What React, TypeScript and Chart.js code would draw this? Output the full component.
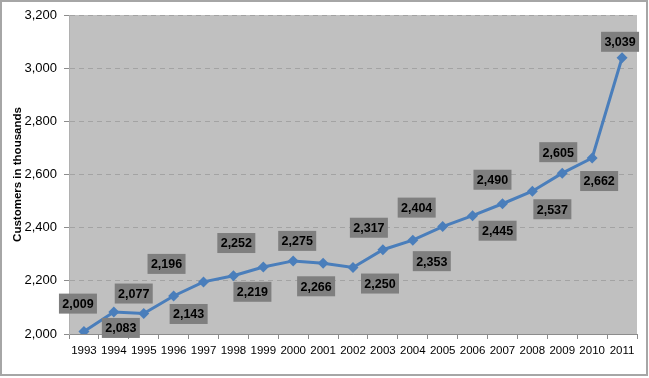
import React, { useEffect, useRef } from "react";
import { Chart, registerables } from "chart.js";

Chart.register(...registerables);

const years = ["1993","1994","1995","1996","1997","1998","1999","2000","2001","2002","2003","2004","2005","2006","2007","2008","2009","2010","2011"];
const customers = [2009, 2083, 2077, 2143, 2196, 2219, 2252, 2275, 2266, 2250, 2317, 2353, 2404, 2445, 2490, 2537, 2605, 2662, 3039];
const yTicks = [2000, 2200, 2400, 2600, 2800, 3000, 3200];
// label box offsets from each point (dx, dy), in pixels
const labelDx = [-6, 7, -10, 15, -37, 19, -27, 4, -7, 27, -14, 19, -26, 25, -10, 20, -4, 7, -2];
const labelDy = [-28, 16, -20, 18, -18, 16, -24, -20, 23, 16, -22, 21, -19, 15, -24, 18, -21, 23, -16];

const fmt = (v: number) => v.toLocaleString("en-US");
const FAMILY = "'Liberation Sans', Arial, sans-serif";

const plotBg = {
  id: "plotBg",
  beforeDraw(chart: any) {
    const { ctx, chartArea: a } = chart;
    ctx.save();
    ctx.fillStyle = "#c0c0c0";
    ctx.fillRect(a.left, a.top, a.right - a.left, a.bottom - a.top);
    ctx.restore();
  },
};

const boxLabels = {
  id: "boxLabels",
  afterDatasetsDraw(chart: any) {
    const { ctx } = chart;
    const meta = chart.getDatasetMeta(0);
    ctx.save();
    ctx.font = "bold 12.5px " + FAMILY;
    ctx.textAlign = "center";
    ctx.textBaseline = "middle";
    meta.data.forEach((pt: any, i: number) => {
      const cx = pt.x + labelDx[i];
      const cy = pt.y + labelDy[i];
      const w = 38, h = 20;
      ctx.fillStyle = "#7f7f7f";
      ctx.fillRect(cx - w / 2, cy - h / 2, w, h);
      ctx.fillStyle = "#000";
      ctx.fillText(fmt(customers[i]), cx, cy + 1);
    });
    ctx.restore();
  },
};

export default function App() {
  const ref = useRef<HTMLCanvasElement>(null);
  useEffect(() => {
    if (!ref.current) return;
    const chart = new Chart(ref.current, {
      type: "line",
      data: {
        labels: years,
        datasets: [
          {
            data: customers,
            borderColor: "#4a7ebb",
            backgroundColor: "#4a7ebb",
            borderWidth: 3,
            pointStyle: "rectRot",
            pointRadius: 5.5,
            pointBorderWidth: 0,
            tension: 0,
          },
        ],
      },
      options: {
        animation: false,
        responsive: false,
        layout: { padding: { left: 0, top: 15, right: 12, bottom: 0 } },
        plugins: { legend: { display: false }, tooltip: { enabled: false } },
        scales: {
          x: {
            offset: true,
            grid: { display: true, drawOnChartArea: false, drawTicks: true, tickLength: 5, offset: true, color: "#8c8c8c" },
            border: { display: true, color: "#8c8c8c", width: 1 },
            ticks: { color: "#000", font: { size: 11.5, family: FAMILY }, padding: 5, maxRotation: 0, autoSkip: false },
            afterFit: (s: any) => { s.height = 44; },
          },
          y: {
            min: 2000,
            max: 3200,
            afterBuildTicks: (s: any) => { s.ticks = yTicks.map((v) => ({ value: v })); },
            grid: { color: "#a3a3a3", tickLength: 5, drawTicks: true, tickColor: "#8c8c8c", tickBorderDash: [] },
            border: { display: true, color: "#b0b0b0", dash: [5, 4] },
            ticks: { color: "#000", font: { size: 13, family: FAMILY }, padding: 7, callback: (v: any) => fmt(Number(v)) },
            title: { display: true, text: "Customers in thousands", color: "#000", font: { size: 11.5, weight: "bold", family: FAMILY }, padding: { top: 11, bottom: 0 } },
            afterFit: (s: any) => { s.width = 69; },
          },
        },
      },
      plugins: [plotBg, boxLabels],
    });
    return () => chart.destroy();
  }, []);
  return (
    <div style={{ position: "fixed", left: 0, top: 0, width: 649, height: 378, background: "#fff" }}>
      <canvas ref={ref} width={649} height={378} style={{ position: "absolute", left: 0, top: 0 }} />
      <div style={{ position: "absolute", left: 0, top: 0, width: 648, height: 376, border: "2px solid #a6a6a6", boxSizing: "border-box", pointerEvents: "none" }} />
    </div>
  );
}
